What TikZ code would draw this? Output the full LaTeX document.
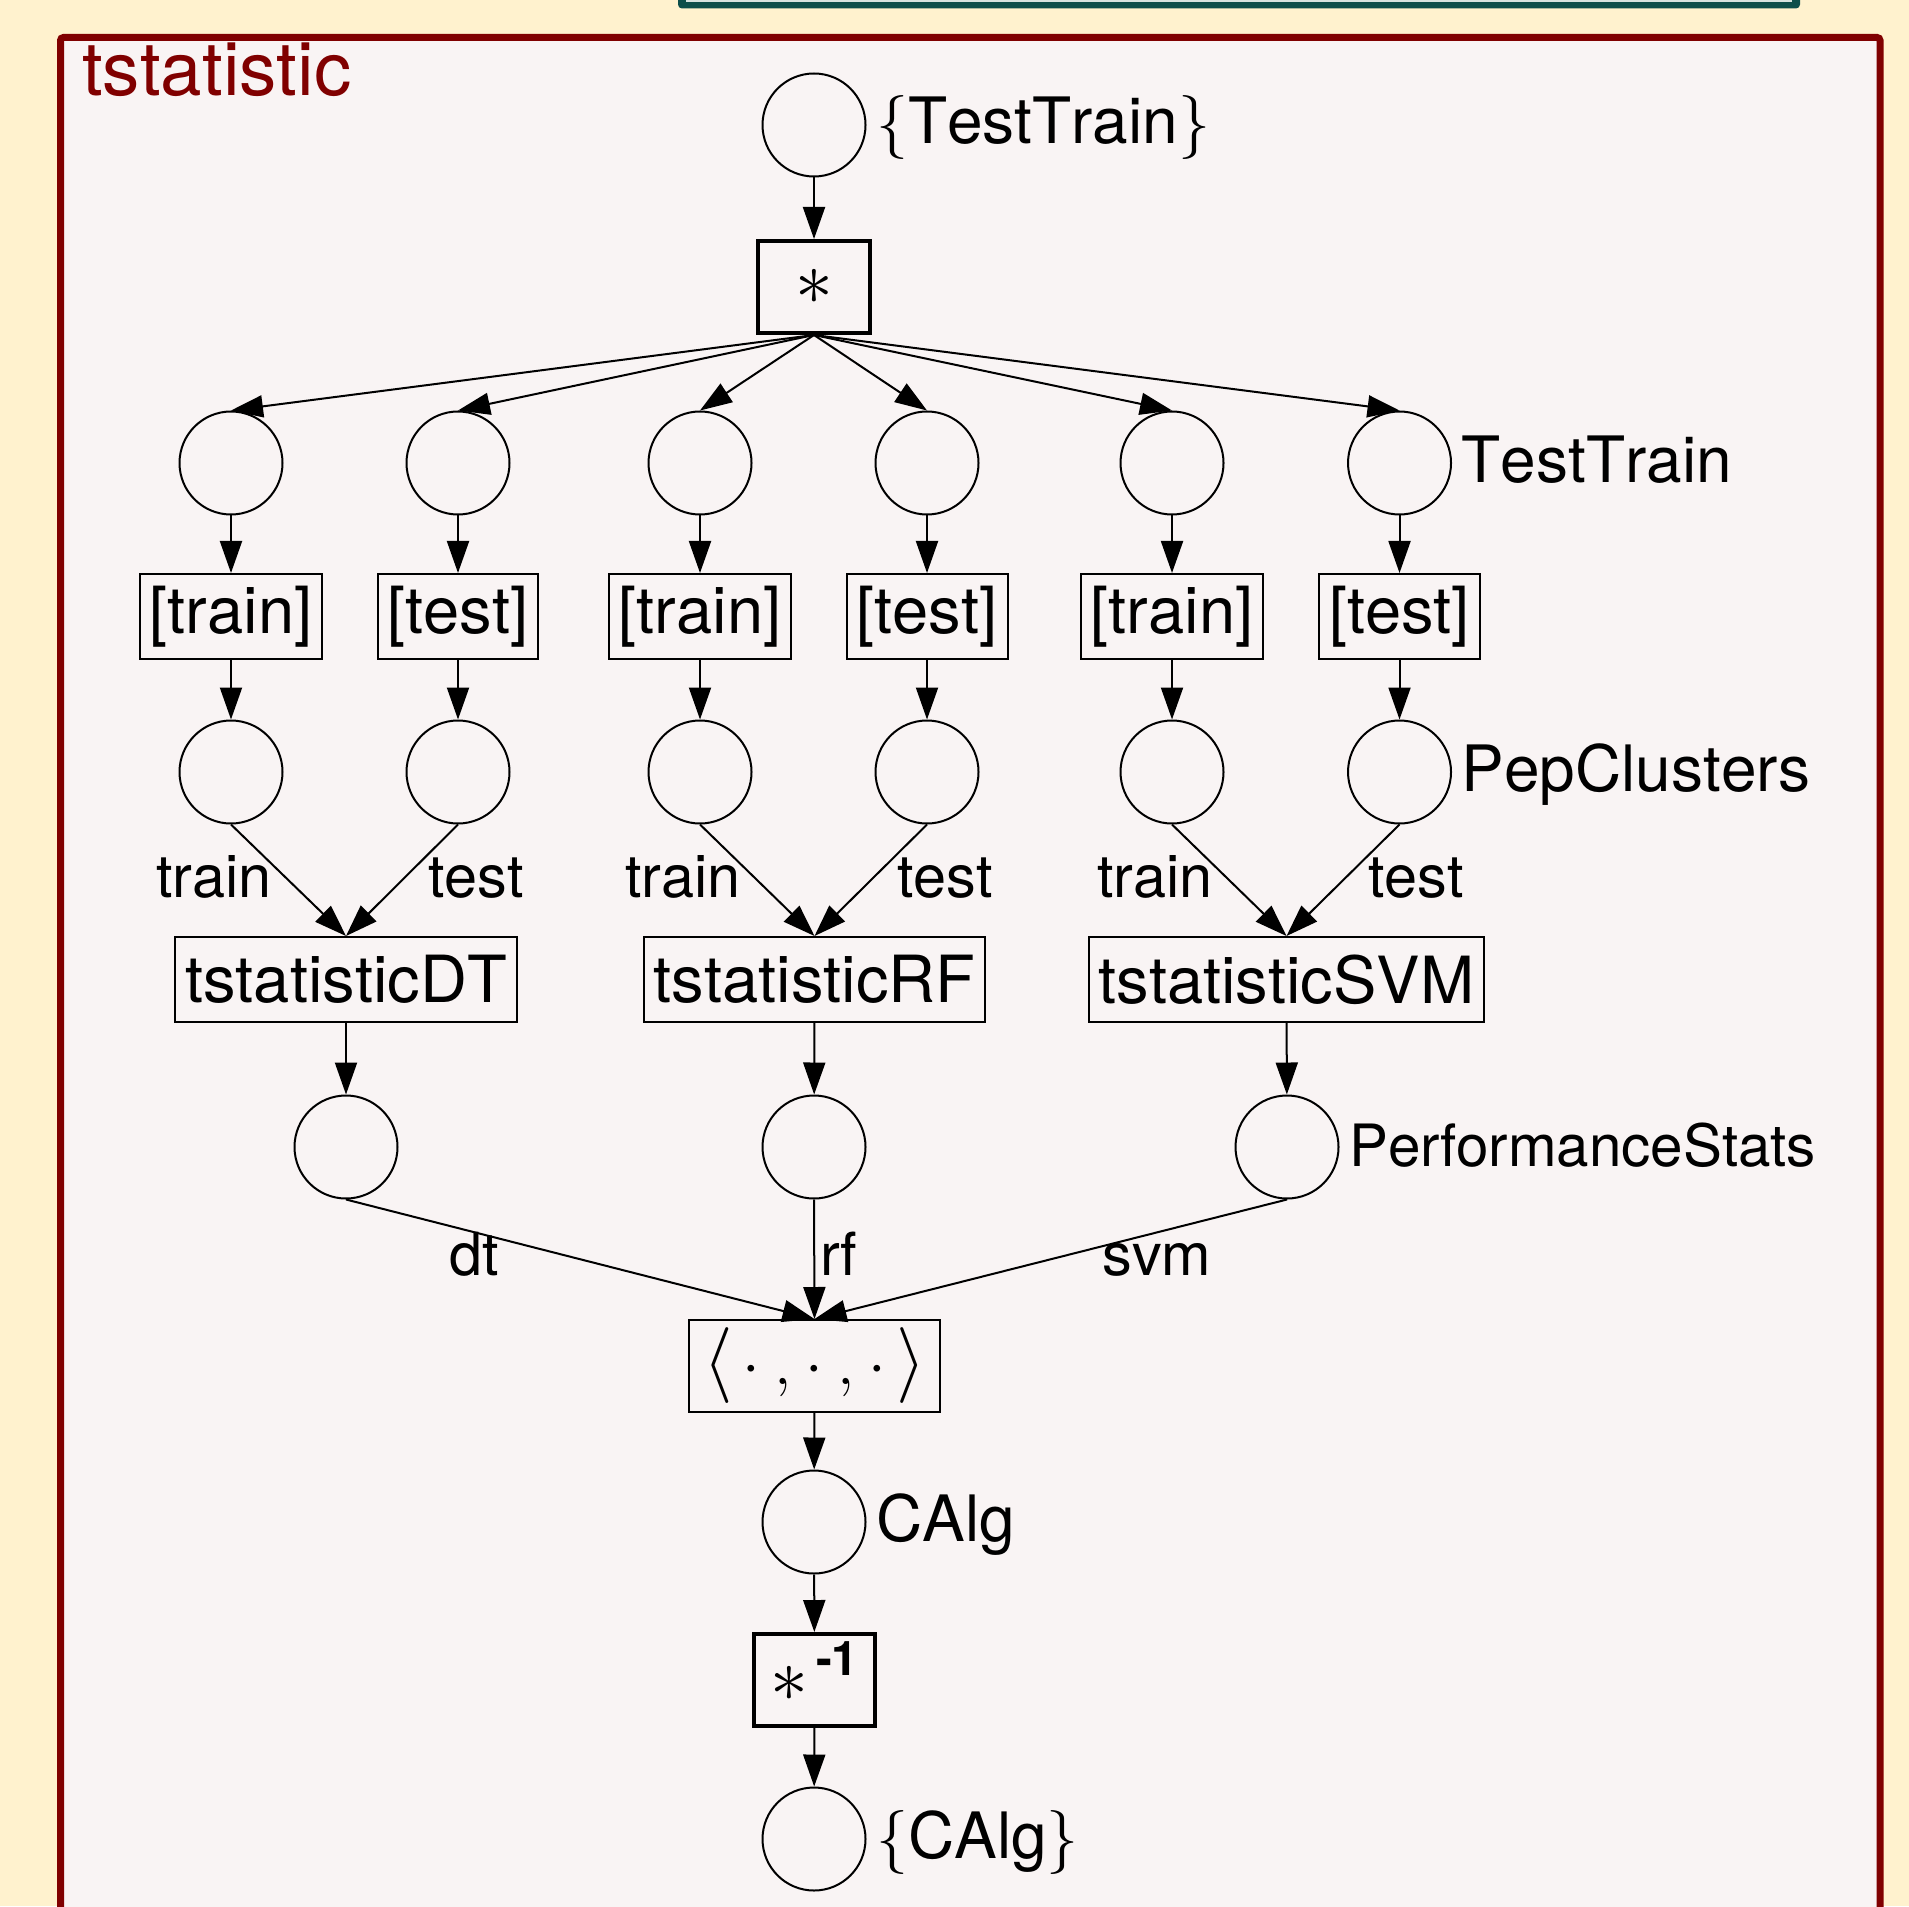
\RequirePackage{fix-cm}
\documentclass[tikz,border=0pt]{standalone}
\usepackage{amsmath}
\usepackage{fontspec}
\setmainfont{TeX Gyre Heros}[Kerning=Off]
\usetikzlibrary{arrows.meta, positioning, calc}
\definecolor{netcream}{RGB}{255,242,206}
\definecolor{netpaper}{RGB}{249,244,244}
\definecolor{netmaroon}{RGB}{128,0,0}
\definecolor{netteal}{RGB}{12,78,74}
\definecolor{nettealpale}{RGB}{214,226,223}

\begin{document}
\begin{tikzpicture}[
    >={Triangle[length=0.32cm, width=0.22cm]},
    place/.style = {circle, draw, line width=0.02cm, minimum size=1.03cm, inner sep=0pt},
    trans/.style = {rectangle, draw, line width=0.02cm, minimum height=0.85cm, inner xsep=0.1cm, inner ysep=0pt, font=\fontsize{18.5}{22}\selectfont},
    bigtrans/.style = {rectangle, draw, line width=0.04cm, minimum height=0.92cm, inner sep=0pt, font=\fontsize{21.5}{25}\selectfont},
    plabel/.style = {anchor=base west, inner sep=0pt, xshift=0.09cm, yshift=-0.19cm, font=\fontsize{18.2}{22}\selectfont},
    alabel/.style = {anchor=base, inner sep=0pt, font=\fontsize{16.9}{20}\selectfont},
    flow/.style = {->, line width=0.02cm}
  ]
  % page, header strip and frame
  \useasboundingbox (0,0) rectangle (19.09,-19.06);
  \clip (0,0) rectangle (19.09,-19.06);
  \fill[netcream] (0,0) rectangle (19.09,-19.06);
  \fill[netteal, rounded corners=0.04cm] (6.78,0.2) rectangle (18.00,-0.085);
  \fill[nettealpale] (6.86,0.2) rectangle (17.92,-0.02);
  \draw[netmaroon, fill=netpaper, line width=0.07cm, rounded corners=0.03cm] (0.605,-0.375) rectangle (18.80,-19.6);
  \node[anchor=base west, inner sep=0pt, text=netmaroon, font=\fontsize{21.2}{25}\selectfont] (title) at (0.815,-0.96) {tstatistic};

  % split
  \node[place] (src) at (8.14,-1.25) {};
  \node[bigtrans, minimum width=1.12cm] (split) at (8.14,-2.87) {$\ast$};

  % branches
  \foreach \n/\x in {1/2.31, 2/4.58, 3/7.00, 4/9.27, 5/11.72, 6/13.995}{
    \node[place] (tt\n) at (\x,-4.63) {};
    \node[place] (pc\n) at (\x,-7.72) {};
  }
  \foreach \n/\x in {1/2.31, 3/7.00, 5/11.72}{
    \node[trans, minimum width=1.76cm] (sel\n) at (\x,-6.165) {[train]};
  }
  \foreach \n/\x in {2/4.58, 4/9.27, 6/13.995}{
    \node[trans, minimum width=1.55cm] (sel\n) at (\x,-6.165) {[test]};
  }

  % classifiers
  \node[trans, minimum width=3.34cm] (tdt) at (3.46,-9.795) {tstatisticDT};
  \node[trans, minimum width=3.33cm] (trf) at (8.145,-9.795) {tstatisticRF};
  \node[trans, minimum width=3.87cm] (tsvm) at (12.865,-9.795) {tstatisticSVM};
  \node[place] (pdt) at (3.46,-11.47) {};
  \node[place] (prf) at (8.14,-11.47) {};
  \node[place] (psvm) at (12.87,-11.47) {};

  % join
  \node[trans, minimum width=2.51cm, minimum height=0.92cm, inner sep=0pt, font=\fontsize{18}{22}\selectfont] (tup) at (8.145,-13.66)
    {{\fontsize{21.6}{26}\selectfont$\langle$}\kern2.8pt$\cdot\mkern4mu,\mkern1mu\cdot\mkern4mu,\mkern1mu\cdot$\kern2.8pt{\fontsize{21.6}{26}\selectfont$\rangle$}};
  \node[place] (calg) at (8.14,-15.22) {};
  \node[bigtrans, minimum width=1.21cm, text height=17pt, text depth=4.5pt] (inv) at (8.145,-16.80)
    {$\ast$\kern2.2pt\raisebox{7.6pt}{\fontsize{13.6}{16}\selectfont\bfseries -1}};
  \node[place] (fin) at (8.14,-18.39) {};

  % place types
  \node[plabel] (lsrc) at (src.east) {$\{$TestTrain$\}$};
  \node[plabel] (ltt) at (tt6.east) {TestTrain};
  \node[plabel] (lpc) at (pc6.east) {PepClusters};
  \node[plabel, font=\fontsize{16.6}{20}\selectfont] (lperf) at (psvm.east) {PerformanceStats};
  \node[plabel] (lcalg) at (calg.east) {CAlg};
  \node[plabel] (lfin) at (fin.east) {$\{$CAlg$\}$};

  % arc labels
  \node[alabel] (atr1) at (2.14,-8.97) {train};
  \node[alabel] (ate1) at (4.76,-8.97) {test};
  \node[alabel] (atr2) at (6.83,-8.97) {train};
  \node[alabel] (ate2) at (9.45,-8.97) {test};
  \node[alabel] (atr3) at (11.55,-8.97) {train};
  \node[alabel] (ate3) at (14.16,-8.97) {test};
  \node[alabel] (adt) at (4.74,-12.75) {dt};
  \node[alabel] (arf) at (8.39,-12.75) {rf};
  \node[alabel] (asvm) at (11.57,-12.75) {svm};

  % arcs
  \draw[flow] (src) -- (split);
  \foreach \n in {1,...,6}{
    \draw[flow] (split.south) -- (tt\n.north);
    \draw[flow] (tt\n) -- (sel\n);
    \draw[flow] (sel\n) -- (pc\n);
  }
  \draw[flow] (pc1.south) -- (tdt.north);
  \draw[flow] (pc2.south) -- (tdt.north);
  \draw[flow] (pc3.south) -- (trf.north);
  \draw[flow] (pc4.south) -- (trf.north);
  \draw[flow] (pc5.south) -- (tsvm.north);
  \draw[flow] (pc6.south) -- (tsvm.north);
  \draw[flow] (tdt) -- (pdt);
  \draw[flow] (trf) -- (prf);
  \draw[flow] (tsvm) -- (psvm);
  \draw[flow] (pdt.south) -- (tup.north);
  \draw[flow] (prf.south) -- (tup.north);
  \draw[flow] (psvm.south) -- (tup.north);
  \draw[flow] (tup) -- (calg);
  \draw[flow] (calg) -- (inv);
  \draw[flow] (inv) -- (fin);
\end{tikzpicture}
\end{document}
